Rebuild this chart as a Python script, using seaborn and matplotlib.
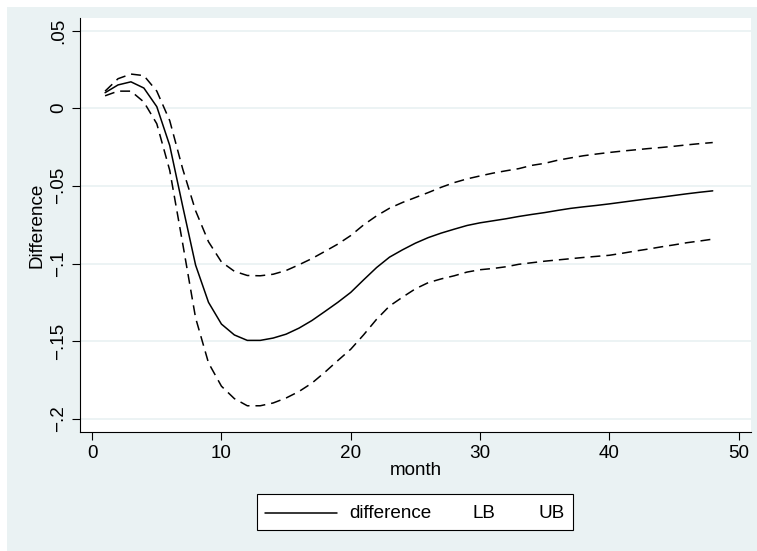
import matplotlib
matplotlib.use("Agg")
import matplotlib.pyplot as plt
from matplotlib.lines import Line2D
from matplotlib.patches import Rectangle
import numpy as np
import pandas as pd
import seaborn as sns

# Estimated difference by month with its lower / upper confidence bounds
month = list(range(1, 49))
difference = [
    0.010, 0.015, 0.017, 0.013, 0.001, -0.024, -0.063, -0.101, -0.125, -0.139,
    -0.146, -0.1495, -0.1495, -0.148, -0.1455, -0.1416, -0.1367, -0.1309, -0.1250, -0.1186,
    -0.1105, -0.1026, -0.0959, -0.0912, -0.0869, -0.0833, -0.0804, -0.0779, -0.0755, -0.0738,
    -0.0725, -0.0712, -0.0697, -0.0684, -0.0672, -0.0658, -0.0645, -0.0635, -0.0626, -0.0616,
    -0.0605, -0.0594, -0.0583, -0.0573, -0.0562, -0.0551, -0.0541, -0.0532,
]
lb = [
    0.008, 0.011, 0.011, 0.004, -0.010, -0.040, -0.087, -0.135, -0.164, -0.179,
    -0.187, -0.1916, -0.1916, -0.1898, -0.1866, -0.1824, -0.1770, -0.1700, -0.1625, -0.1552,
    -0.1459, -0.1359, -0.1274, -0.1217, -0.1163, -0.1123, -0.1099, -0.1079, -0.1055, -0.1040,
    -0.1032, -0.1021, -0.1005, -0.0995, -0.0985, -0.0977, -0.0969, -0.0961, -0.0954, -0.0947,
    -0.0934, -0.0920, -0.0907, -0.0893, -0.0880, -0.0866, -0.0855, -0.0843,
]
ub = [
    0.011, 0.019, 0.022, 0.021, 0.011, -0.008, -0.039, -0.066, -0.086, -0.099,
    -0.105, -0.1077, -0.1079, -0.1069, -0.1045, -0.1008, -0.0968, -0.0922, -0.0875, -0.0820,
    -0.0751, -0.0693, -0.0644, -0.0607, -0.0575, -0.0543, -0.0509, -0.0479, -0.0455, -0.0436,
    -0.0418, -0.0403, -0.0389, -0.0368, -0.0355, -0.0335, -0.0320, -0.0306, -0.0295, -0.0285,
    -0.0276, -0.0268, -0.0260, -0.0253, -0.0245, -0.0236, -0.0228, -0.0221,
]

xticks = [0, 10, 20, 30, 40, 50]
yticks = [0.05, 0.0, -0.05, -0.1, -0.15, -0.2]
ytick_labels = [".05", "0", "\u2212.05", "\u2212.1", "\u2212.15", "\u2212.2"]
legend_labels = ["difference", "LB", "UB"]

BG = "#EAF2F3"
W, H = 757, 551
FS = 13.6


def fx(x):
    return x / W


def fy(y):
    return 1 - y / H


sns.set_theme(style="white")
plt.rcParams["font.family"] = ["Liberation Sans", "DejaVu Sans"]

fig = plt.figure(figsize=(W / 100, H / 100), dpi=100, facecolor="white")
fig.patches.append(Rectangle((fx(7), 0), 1, fy(7), transform=fig.transFigure,
                             facecolor=BG, edgecolor="none", zorder=-10))

ax = fig.add_axes([fx(80), fy(431.7), fx(751) - fx(80), fy(18) - fy(431.7)])
ax.set_facecolor("white")

df = pd.DataFrame({"month": month, "difference": difference, "LB": lb, "UB": ub})
dash = (0, (6.5, 3.9))
sns.lineplot(data=df, x="month", y="difference", color="black", lw=1.1, ax=ax)
sns.lineplot(data=df, x="month", y="LB", color="black", lw=1.1, linestyle=dash, ax=ax)
sns.lineplot(data=df, x="month", y="UB", color="black", lw=1.1, linestyle=dash, ax=ax)

ax.set_xlim(-0.94, 50.96)
ax.set_ylim(-0.2083, 0.0581)
ax.set_xticks(xticks)
ax.set_xticklabels([str(t) for t in xticks])
ax.set_yticks(yticks)
ax.set_yticklabels(ytick_labels, rotation=90, va="center")

ax.yaxis.grid(True, color=BG, lw=1.3)
ax.xaxis.grid(False)
ax.set_axisbelow(True)
for side in ["top", "right"]:
    ax.spines[side].set_visible(False)
for side in ["left", "bottom"]:
    ax.spines[side].set_color("black")
    ax.spines[side].set_linewidth(0.8)

ax.tick_params(axis="both", direction="out", length=6, width=0.8, color="black",
               labelsize=FS, labelcolor="black", left=True, bottom=True, pad=3.5)
ax.set_xlabel("month", fontsize=FS, color="black", labelpad=0)
ax.set_ylabel("Difference", fontsize=FS, color="black", labelpad=3)

# Legend box below the plot: solid key for the estimate, labels for the bounds
fig.add_artist(Rectangle((fx(256.7), fy(530)), fx(573) - fx(256.7), fy(494) - fy(530),
                         transform=fig.transFigure, facecolor="white",
                         edgecolor="black", lw=0.8))
fig.add_artist(Line2D([fx(265), fx(337)], [fy(513), fy(513)], transform=fig.transFigure,
                      color="black", lw=1.1))
for label, x in zip(legend_labels, [349, 473, 538]):
    fig.text(fx(x), fy(513), label, ha="left", va="center", fontsize=FS, color="black")

fig.savefig("out.png", dpi=100, facecolor=fig.get_facecolor())
